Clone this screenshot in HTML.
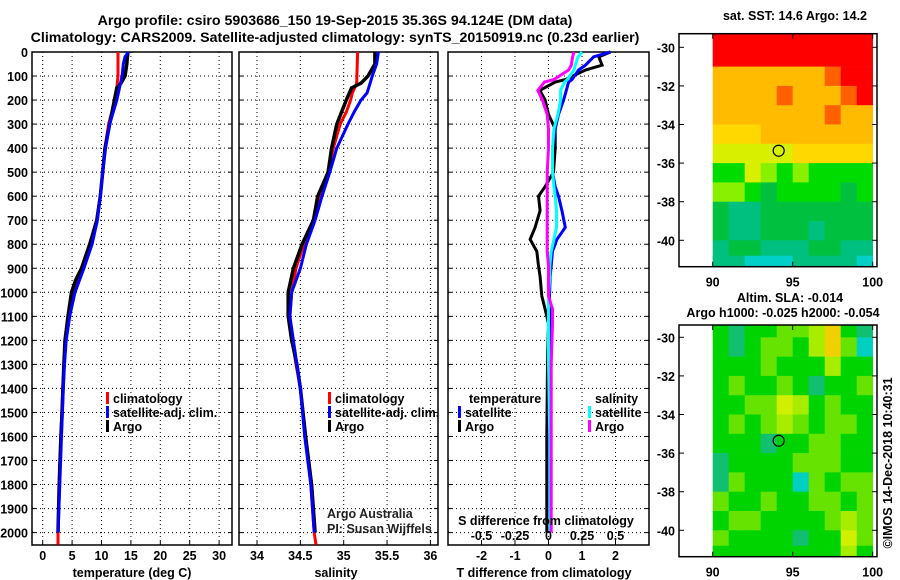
<!DOCTYPE html>
<html><head><meta charset="utf-8">
<style>
html,body{margin:0;padding:0;background:#fff;}
svg{display:block;}
text{font-family:"Liberation Sans",sans-serif;}
.b{font-weight:bold;font-size:14.2px;}
.t{font-weight:bold;font-size:12.5px;}
</style></head>
<body>
<svg id="chart" width="900" height="580" viewBox="0 0 900 580" xmlns="http://www.w3.org/2000/svg">
<text x="335" y="25" text-anchor="middle" class="b">Argo profile: csiro 5903686_150 19-Sep-2015 35.36S 94.124E (DM data)</text>
<text x="335" y="42" text-anchor="middle" class="b">Climatology: CARS2009. Satellite-adjusted climatology: synTS_20150919.nc (0.23d earlier)</text>
<g id="layer"></g>
</svg>
<script>
// ---------- data ----------
const depthTicks=[0,100,200,300,400,500,600,700,800,900,1000,1100,1200,1300,1400,1500,1600,1700,1800,1900,2000];
const tempTicks=[0,5,10,15,20,25,30];
const salTicks=[34,34.5,35,35.5,36];
const tdTicks=[-2,-1,0,1,2];
const sdTicks=[-0.5,-0.25,0,0.25,0.5];
const sdTickLabels=["-0.5","-0.25","0","0.25","0.5"];

const tArgoDepth=[0,20,50,100,130,150,200,300,400,500,600,700,800,900,950,1000,1100,1200,1300,1400,1500,1600,1800,2000];
const tArgo=[14.5,14.4,14.3,14.0,13.3,12.6,12.2,11.4,10.6,10.2,9.8,9.2,8.0,6.6,5.6,4.9,4.3,3.8,3.6,3.45,3.3,3.1,2.8,2.6];
const tClimDepth=[0,100,150,200,300,400,500,600,700,800,900,1000,1100,1200,1300,1400,1600,1800,2000,2050];
const tClim=[12.8,12.8,12.6,12.3,11.2,10.6,10.2,9.8,9.2,8.2,7.0,5.0,4.4,3.9,3.6,3.4,3.1,2.8,2.6,2.6];
const tSatDepth=[0,20,50,100,200,300,400,500,600,700,800,900,1000,1100,1200,1300,1400,1600,1800,2000];
const tSat=[14.6,14.0,13.7,13.5,12.6,11.4,10.7,10.2,9.8,9.3,8.4,7.0,5.5,4.6,4.0,3.7,3.5,3.2,2.9,2.6];

const sArgoDepth=[0,50,100,130,150,200,300,400,500,600,700,800,900,1000,1100,1200,1300,1400,1500,1600,1800,2000];
const sArgo=[35.36,35.36,35.28,35.2,35.09,35.03,34.92,34.86,34.82,34.7,34.65,34.52,34.42,34.36,34.36,34.4,34.46,34.5,34.53,34.56,34.63,34.67];
const sClimDepth=[0,130,170,200,250,300,400,500,600,700,800,900,1000,1100,1200,1300,1400,1600,1800,2000,2050];
const sClim=[35.16,35.15,35.1,35.08,35.03,34.96,34.88,34.82,34.72,34.66,34.54,34.45,34.4,34.38,34.41,34.45,34.5,34.56,34.62,34.66,34.68];
const sSatDepth=[0,50,100,170,200,250,300,400,500,600,700,800,900,1000,1100,1200,1300,1400,1600,1800,2000];
const sSat=[35.4,35.38,35.33,35.27,35.2,35.12,35.05,34.92,34.84,34.75,34.67,34.57,34.5,34.4,34.38,34.42,34.46,34.5,34.55,34.62,34.66];

const dDepth=[0,20,55,75,115,125,160,200,260,320,400,500,560,600,660,730,780,830,890,935,1015,1070,1130,1300,1600,2000];
const dTArgo=[1.85,1.5,1.6,1.1,0.5,0.2,-0.26,-0.1,0.0,0.2,0.2,0.15,-0.1,-0.3,-0.25,-0.4,-0.55,-0.35,-0.3,-0.25,-0.2,-0.1,0.0,-0.03,-0.05,-0.05];
const dTSat=[1.85,1.35,1.1,0.9,0.7,0.6,0.53,0.45,0.3,0.2,0.12,0.12,0.2,0.3,0.4,0.5,0.25,0.12,0.08,0.05,0.03,0.03,0.03,0.02,0.02,0.03];
const dSSat=[0.25,0.22,0.2,0.19,0.14,0.12,0.09,0.09,0.07,0.04,0.03,0.03,0.04,0.05,0.06,0.06,0.04,0.02,0.01,0.01,0.0,0.0,0.0,0.0,0.01,0.01];
const dSArgo=[0.19,0.18,0.17,0.15,0.04,-0.03,-0.08,-0.045,-0.01,0.0,0.0,-0.01,-0.01,-0.01,-0.01,-0.01,-0.01,-0.01,0.0,0.0,0.0,0.03,0.03,0.02,0.02,0.02];

const mapLats=[-29.5,-30.5,-31.5,-32.5,-33.5,-34.5,-35.5,-36.5,-37.5,-38.5,-39.5,-40.5,-41.3];
const mapLons=[90.5,91.5,92.5,93.5,94.5,95.5,96.5,97.5,98.5,99.5];
const sst=[
[17,17,17,17,17,17,17,17,17,17],
[17,17,17,17,17,17,17,17,17,17],
[15,15,15,15,15,15,15,16,17,17],
[15,15,15,15,16,15,15,15,16,17],
[15,15,15,15,15,15,15,16,15,15],
[14.5,14.5,14.5,15,15,15,15,15,15,15],
[14,14,14,14,14,14.5,14.5,14.5,14.5,14.5],
[13,13,14,13.5,13,13.5,13,13,13,13],
[13.5,13.5,13,12.5,13,13,13,13,12.5,13],
[12.5,12,12,12.5,12.5,12.5,12.5,12.5,12.5,12.5],
[12.5,12,12,12.5,12.5,12.5,12,12.5,12.5,12.5],
[12,12.5,12.5,12,12,12,12.5,12.5,12,12],
[12,12,11.5,11.5,11.5,12,12,12,12,11.5]];
const sla=[
[0,-1,0,0,0.5,0.5,1,2,0,-1],
[0,-1,0,0.5,0.5,0,1,2,0.5,-2],
[0,0,0,0.5,0,0,0,1,0,0],
[0,0.5,0,0,0.5,0,-1,0,0,0.5],
[0,0,0.5,0.5,1.5,1,0,0.5,0,0],
[0,0.5,0,0.5,1,0.5,0,0.5,0.5,0],
[0,0,0,-1,0,0,0.5,0.5,0,0],
[-1,0,0,0,0,0.5,0.5,0.5,0,0],
[-1,0.5,0,0,0,-2,0.5,0,0.5,0.5],
[0.5,0,0,0.5,0,0,0.5,0.5,0,0.5],
[0,0.5,0.5,0,0,0,0,0.5,1,0.5],
[0.5,0,0,0,0,-1,0,0,1.5,0.5],
[0,0,0,0,0,0,0,0,1,0]];
const argoLon=94.124, argoLat=-35.36;
const mapLonTicks=[90,95,100];
const mapLatTicks=[-30,-32,-34,-36,-38,-40];

// ---------- helpers ----------
const NS="http://www.w3.org/2000/svg";
const layer=document.getElementById('layer');
function mk(tag,attrs,parent){const e=document.createElementNS(NS,tag);for(const k in attrs)e.setAttribute(k,attrs[k]);(parent||layer).appendChild(e);return e;}
function txt(x,y,s,cls,anchor,parent){const e=mk('text',{x:x,y:y,'text-anchor':anchor||'middle','class':cls||'t'},parent);e.textContent=s;return e;}
const yTop=52, yScale=0.2403, frameTop=52, frameBot=545;
const yD=d=>yTop+d*yScale;

function panel(name,x0,x1,xf,ticks,labels){
  const g=mk('g',{});
  
  
  depthTicks.forEach(d=>{mk('line',{x1:x0,x2:x1,y1:yD(d),y2:yD(d),stroke:'#000','stroke-width':1,'stroke-dasharray':'1 3'},g);
    mk('line',{x1:x0,x2:x0+4,y1:yD(d),y2:yD(d),stroke:'#000'},g);mk('line',{x1:x1-4,x2:x1,y1:yD(d),y2:yD(d),stroke:'#000'},g);});
  ticks.forEach((t,i)=>{const x=xf(t);mk('line',{x1:x,x2:x,y1:frameTop,y2:frameBot,stroke:'#000','stroke-width':1,'stroke-dasharray':'1 3'},g);
    mk('line',{x1:x,x2:x,y1:frameBot-4,y2:frameBot,stroke:'#000'},g);
    if(labels){const l=txt(x,560,labels[i],'t','middle',g);}});
  mk('rect',{x:x0,y:frameTop,width:x1-x0,height:frameBot-frameTop,fill:'none',stroke:'#000','stroke-width':1.5},g);
  return g;
}
function line(name,xs,ds,xf,color,w,g){
  const pts=xs.map((v,i)=>xf(v).toFixed(1)+','+yD(ds[i]).toFixed(1)).join(' ');
  const p=mk('polyline',{points:pts,fill:'none',stroke:color,'stroke-width':w,'stroke-linejoin':'miter'},g);
  
  
}
function legend(x,y,color,label,g){
  mk('rect',{x:x,y:y-11,width:3,height:12,fill:color},g);
  const t=txt(x+7,y,label,'t','start',g);
  
  
}

depthTicks.forEach(d=>{const t=txt(28,yD(d)+5,String(d),'t','end');
  
  });

const xT=v=>42.7+v*5.88;
const g1=panel('temperature-panel',32,232,xT,tempTicks,tempTicks.map(String));
line('temp-climatology',tClim,tClimDepth,xT,'#ff0000',3,g1);
line('temp-argo',tArgo,tArgoDepth,xT,'#000000',3.5,g1);
line('temp-satellite',tSat,tSatDepth,xT,'#0000ff',3,g1);
legend(106,403,'#ff0000','climatology',g1);
legend(106,417,'#0000ff','satellite-adj. clim.',g1);
legend(106,431,'#000000','Argo',g1);
const at1=txt(132,577,'temperature (deg C)','t','middle');



const xS=v=>257+(v-34)*86.7;
const g2=panel('salinity-panel',239,438,xS,salTicks,salTicks.map(String));
line('sal-climatology',sClim,sClimDepth,xS,'#ff0000',3,g2);
line('sal-argo',sArgo,sArgoDepth,xS,'#000000',3.5,g2);
line('sal-satellite',sSat,sSatDepth,xS,'#0000ff',3,g2);
legend(328,403,'#ff0000','climatology',g2);
legend(328,417,'#0000ff','satellite-adj. clim.',g2);
legend(328,431,'#000000','Argo',g2);
const at2=txt(336,577,'salinity','t','middle');


const c1=txt(327,518,'Argo Australia','','start');c1.setAttribute('font-size','12');c1.setAttribute('fill','#222');


const c2=txt(327,533,'PI: Susan Wijffels','','start');c2.setAttribute('font-size','12');c2.setAttribute('fill','#222');



const xD=v=>548.5+v*33.5;
const xSD=v=>548.5+v*134;
const g3=panel('difference-panel',448,649,xD,tdTicks,tdTicks.map(String));
line('tdiff-argo',dTArgo,dDepth,xD,'#000000',3,g3);
line('tdiff-satellite',dTSat,dDepth,xD,'#0000ff',3,g3);
line('sdiff-satellite',dSSat,dDepth,xSD,'#00ffff',3,g3);
line('sdiff-argo',dSArgo,dDepth,xSD,'#ff00ff',3,g3);
sdTicks.forEach((v,i)=>{const t=txt(xSD(v),540,sdTickLabels[i],'t','middle',g3);
  
  });
const sdt=txt(546,525,'S difference from climatology','t','middle',g3);


const tlT=txt(469,403,'temperature','t','start',g3);


const tlS=txt(595,403,'salinity','t','start',g3);


legend(458,417,'#0000ff','satellite',g3);
legend(458,431,'#000000','Argo',g3);
legend(588,417,'#00ffff','satellite',g3);
legend(588,431,'#ff00ff','Argo',g3);
const at3=txt(544,577,'T difference from climatology','t','middle');



const mLon=v=>712.7+(v-90)*16;
function sstColor(v){if(v>=16.5)return'#ff0000';if(v>=15.5)return'#ff6000';if(v>=14.8)return'#ffbb00';if(v>=14.3)return'#ffd800';if(v>=13.8)return'#d8f000';if(v>=13.3)return'#88f000';if(v>=12.8)return'#00dc00';if(v>=12.3)return'#00c040';if(v>=11.8)return'#00c080';return'#00d0c8';}
function slaColor(v){if(v<=-1.5)return'#00d0c0';if(v<=-0.5)return'#10c070';if(v<0.25)return'#00d400';if(v<0.75)return'#66e400';if(v<1.25)return'#a8ec00';if(v<1.75)return'#d0f000';return'#f0d000';}
function drawMap(name,top,bot,lat30,grid,colf){
  const mLat=v=>lat30+(-30-v)*19.3;
  const g=mk('g',{});
  
  
  const x0=679,x1=877;
  grid.forEach((row,i)=>{row.forEach((v,j)=>{
    const la=mapLats[i];const yA=Math.max(top,mLat(la+0.5)),yB=Math.min(bot,mLat(la-0.5));
    const c=mk('rect',{x:mLon(mapLons[j]-0.5),y:yA,width:16.3,height:yB-yA+0.3,fill:colf(v)},g);
    
    
  });});
  mk('rect',{x:x0,y:top,width:x1-x0,height:bot-top,fill:'none',stroke:'#000','stroke-width':1.5},g);
  mapLonTicks.forEach(v=>{mk('line',{x1:mLon(v),x2:mLon(v),y1:top,y2:top+5,stroke:'#000'},g);mk('line',{x1:mLon(v),x2:mLon(v),y1:bot-5,y2:bot,stroke:'#000'},g);
    const t=txt(mLon(v),bot+20,String(v),'t','middle',g);t.setAttribute('font-size','13');
    
    });
  mapLatTicks.forEach(v=>{mk('line',{x1:x0,x2:x0+5,y1:mLat(v),y2:mLat(v),stroke:'#000'},g);mk('line',{x1:x1-5,x2:x1,y1:mLat(v),y2:mLat(v),stroke:'#000'},g);
    const t=txt(675,mLat(v)+5,String(v),'t','end',g);
    
    });
  const m=mk('circle',{cx:mLon(argoLon),cy:mLat(argoLat),r:5.5,fill:'none',stroke:'#000','stroke-width':1.2},g);
  
  
}
drawMap('sst-map',33.7,266.7,47.3,sst,sstColor);
drawMap('sla-map',325,556.7,337.3,sla,slaColor);
const mt1=txt(795,20,'sat. SST: 14.6 Argo: 14.2','t','middle');


const mt2=txt(790,302,'Altim. SLA: -0.014','t','middle');


const mt3=txt(783,317,'Argo h1000: -0.025 h2000: -0.054','t','middle');


const stamp=txt(0,0,'\u00A9IMOS 14-Dec-2018 10:40:31','','middle');
stamp.setAttribute('font-size','12');
stamp.setAttribute('transform','translate(892,463) rotate(-90)');


</script>
</body></html>
